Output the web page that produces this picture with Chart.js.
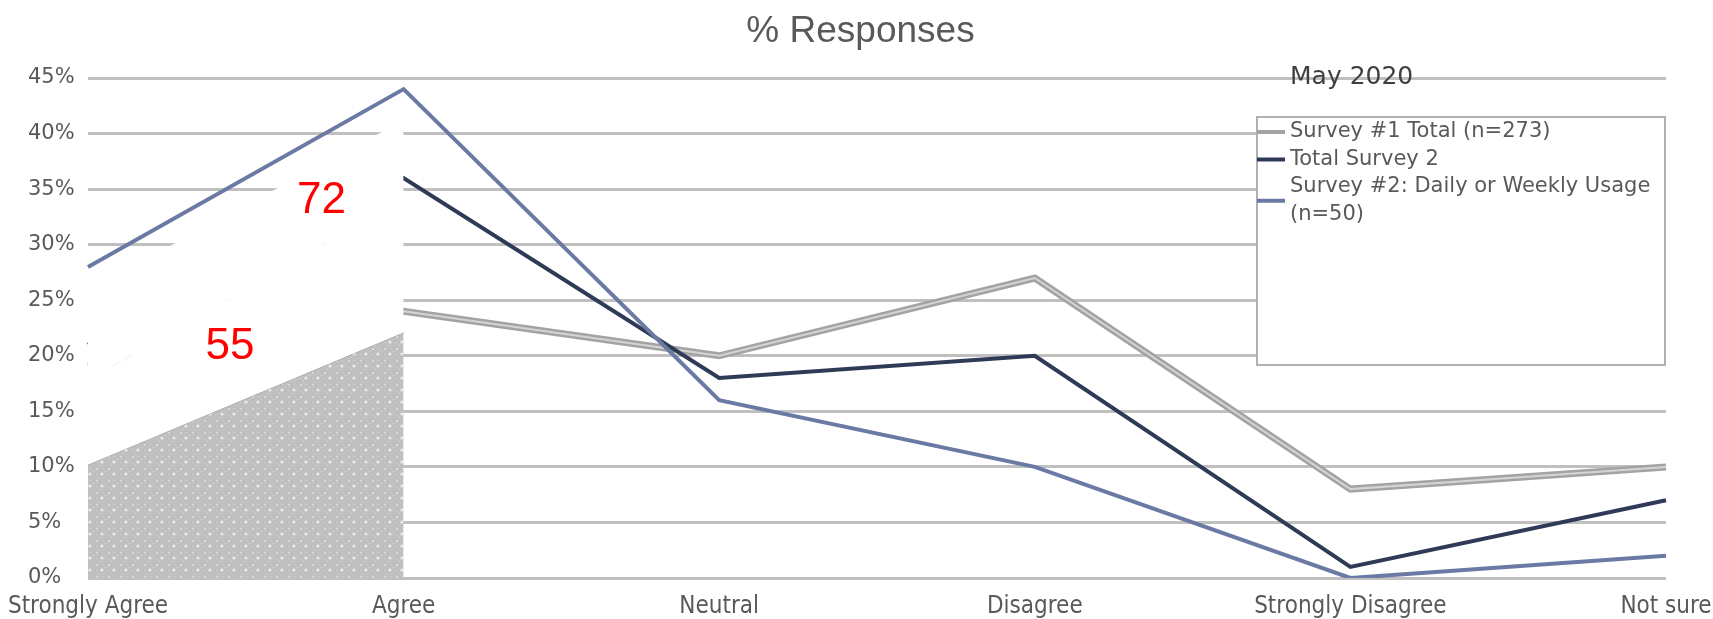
<!DOCTYPE html>
<html>
<head>
<meta charset="utf-8">
<script src="https://cdn.jsdelivr.net/npm/chart.js@4.4.0/dist/chart.umd.min.js"></script>
<style>
  body { margin: 0; background: #fff; }
  canvas { display: block; }
</style>
</head>
<body>
<canvas id="myChart" width="1713" height="619"></canvas>
<script>
// data
const categories = ['Strongly Agree', 'Agree', 'Neutral', 'Disagree', 'Strongly Disagree', 'Not sure'];
const survey1Total = [19, 24, 20, 27, 8, 10];
const survey2Total = [21, 36, 18, 20, 1, 7];
const survey2Daily = [28, 44, 16, 10, 0, 2];
// shaded area + the two white bands on the left
const shadedArea = [10.2, 22.1, null, null, null, null];
const band55Top = [17.8, 34.1, null, null, null, null];
const band72Top = [25.9, 41.2, null, null, null, null];
const bandLabels = ['55', '72'];
const chartTitle = '% Responses';
const legendTitle = 'May 2020';
const yMax = 45;
const yStep = 5;

const FONT = "'Liberation Sans', Arial, sans-serif";
const DJV = "'DejaVu Sans', sans-serif";
const DJV_COND = "'DejaVu Sans Condensed', 'DejaVu Sans', sans-serif";

function dotPattern() {
  const c = document.createElement('canvas');
  c.width = 12; c.height = 12;
  const g = c.getContext('2d');
  g.fillStyle = '#bfbfbf';
  g.fillRect(0, 0, 12, 12);
  g.fillStyle = '#ebebeb';
  g.beginPath(); g.arc(6, 6, 1.6, 0, Math.PI * 2); g.fill();
  g.fillStyle = '#d6d6d6';
  g.fillRect(0, 0, 2, 2);
  g.fillRect(0, 6, 1, 1);
  g.fillRect(6, 0, 1, 1);
  g.fillRect(3, 9, 1, 1);
  g.fillRect(9, 3, 1, 1);
  return g.createPattern(c, 'repeat');
}

// chart title, drawn by hand so it can sit a bit right of centre like the original
const titlePlugin = {
  id: 'plainTitle',
  afterDraw(chart) {
    const ctx = chart.ctx;
    ctx.save();
    ctx.fillStyle = '#595959';
    ctx.font = '37px ' + FONT;
    ctx.textAlign = 'center';
    ctx.textBaseline = 'middle';
    ctx.fillText(chartTitle, chart.width / 2 + 4, 32);
    ctx.restore();
  }
};

// lighter centre stripe on the grey line
const stripePlugin = {
  id: 'stripe',
  afterDatasetDraw(chart, args) {
    const ds = chart.data.datasets[args.index];
    if (!ds.stripeColor) return;
    const pts = args.meta.data;
    const ctx = chart.ctx;
    ctx.save();
    ctx.strokeStyle = ds.stripeColor;
    ctx.lineWidth = 2;
    ctx.beginPath();
    pts.forEach((p, i) => i ? ctx.lineTo(p.x, p.y) : ctx.moveTo(p.x, p.y));
    ctx.stroke();
    ctx.restore();
  }
};

// red numbers inside the white bands
const bandLabelPlugin = {
  id: 'bandLabels',
  afterDatasetsDraw(chart) {
    const ctx = chart.ctx;
    chart.data.datasets.forEach((ds, i) => {
      if (ds.bandLabel === undefined) return;
      const top = chart.getDatasetMeta(i).data;
      const bot = chart.getDatasetMeta(ds.fill).data;
      const t = ds.labelAt, v = 0.55;
      const x = top[0].x + t * (top[1].x - top[0].x);
      const yt = top[0].y + t * (top[1].y - top[0].y);
      const yb = bot[0].y + t * (bot[1].y - bot[0].y);
      ctx.save();
      ctx.fillStyle = '#ff0000';
      ctx.font = '44px ' + FONT;
      ctx.textAlign = 'center';
      ctx.textBaseline = 'middle';
      ctx.fillText(ds.bandLabel, x, yb + v * (yt - yb));
      ctx.restore();
    });
  }
};

// boxed legend in the top right of the plot
const boxLegendPlugin = {
  id: 'boxLegend',
  afterDraw(chart) {
    const ctx = chart.ctx;
    const area = chart.chartArea;
    const right = area.right - 1, left = right - 408;
    const top = 117, bottom = 365;
    ctx.save();
    ctx.fillStyle = '#3f3f3f';
    ctx.font = '25px ' + DJV;
    ctx.textBaseline = 'middle';
    ctx.fillText(legendTitle, left + 33, area.top - 1);

    ctx.fillStyle = '#ffffff';
    ctx.fillRect(left, top, right - left, bottom - top);
    ctx.strokeStyle = '#b0b0b0';
    ctx.lineWidth = 2;
    ctx.strokeRect(left, top, right - left, bottom - top);

    ctx.font = '21px ' + DJV;
    const lineH = 27.5;
    const textX = left + 33;
    const maxW = right - textX - 2;
    let y = top + 15;
    chart.data.datasets.forEach(ds => {
      if (!ds.inLegend) return;
      const words = ds.label.split(' ');
      const lines = [];
      let cur = '';
      words.forEach(w => {
        const test = cur ? cur + ' ' + w : w;
        if (ctx.measureText(test).width > maxW && cur) { lines.push(cur); cur = w; }
        else cur = test;
      });
      lines.push(cur);
      const midY = y + (lines.length - 1) * lineH / 2;
      ctx.strokeStyle = ds.borderColor;
      ctx.lineWidth = 4;
      ctx.beginPath();
      ctx.moveTo(left, midY);
      ctx.lineTo(left + 28, midY);
      ctx.stroke();
      ctx.fillStyle = '#595959';
      lines.forEach((ln, k) => ctx.fillText(ln, textX, y + k * lineH));
      y += lines.length * lineH;
    });
    ctx.restore();
  }
};

const ctx = document.getElementById('myChart');

const data = {
  labels: categories,
  datasets: [
    {
      label: 'Survey #1 Total (n=273)',
      data: survey1Total,
      borderColor: '#a3a3a3',
      stripeColor: '#d4d4d4',
      borderWidth: 7,
      fill: false,
      order: 6,
      inLegend: true
    },
    {
      label: 'Total Survey 2',
      data: survey2Total,
      borderColor: '#2f3a57',
      borderWidth: 4,
      fill: false,
      order: 5,
      inLegend: true
    },
    {
      label: 'Survey #2: Daily or Weekly Usage (n=50)',
      data: survey2Daily,
      borderColor: '#6b7aa4',
      borderWidth: 4,
      fill: false,
      order: 1,
      inLegend: true
    },
    {
      label: 'shaded',
      data: shadedArea,
      borderColor: '#8c8c8c',
      borderWidth: 1,
      backgroundColor: dotPattern(),
      fill: 'origin',
      order: 7
    },
    {
      label: 'band1',
      data: band55Top,
      borderColor: 'rgba(0,0,0,0)',
      borderWidth: 0,
      backgroundColor: '#ffffff',
      fill: 3,
      order: 4,
      bandLabel: bandLabels[0],
      labelAt: 0.45
    },
    {
      label: 'band2',
      data: band72Top,
      borderColor: 'rgba(0,0,0,0)',
      borderWidth: 0,
      backgroundColor: '#ffffff',
      fill: 4,
      order: 3,
      bandLabel: bandLabels[1],
      labelAt: 0.74
    }
  ]
};

const options = {
  responsive: false,
  animation: false,
  devicePixelRatio: 1,
  layout: { padding: { left: 28, right: 47, top: 78, bottom: 0 } },
  elements: {
    point: { radius: 0, hoverRadius: 0 },
    line: { tension: 0 }
  },
  scales: {
    x: {
      afterFit(scale) {
        scale.height = 41;
        scale.paddingLeft = 0;
        scale.paddingRight = 0;
      },
      grid: { display: false },
      border: { display: false },
      ticks: {
        color: '#595959',
        font: { family: DJV_COND, size: 24 },
        padding: 6,
        maxRotation: 0,
        autoSkip: false
      }
    },
    y: {
      min: 0,
      max: yMax,
      afterFit(scale) { scale.width = 60; },
      grid: { color: '#c0c0c0', lineWidth: 3, drawTicks: false },
      border: { display: false },
      ticks: {
        stepSize: yStep,
        color: '#595959',
        font: { family: DJV, size: 21 },
        crossAlign: 'far',
        callback: v => v + '%'
      }
    }
  },
  plugins: {
    legend: { display: false },
    tooltip: { enabled: false },
    title: { display: false }
  }
};

new Chart(ctx, {
  type: 'line',
  data: data,
  options: options,
  plugins: [titlePlugin, stripePlugin, bandLabelPlugin, boxLegendPlugin]
});
</script>
</body>
</html>
